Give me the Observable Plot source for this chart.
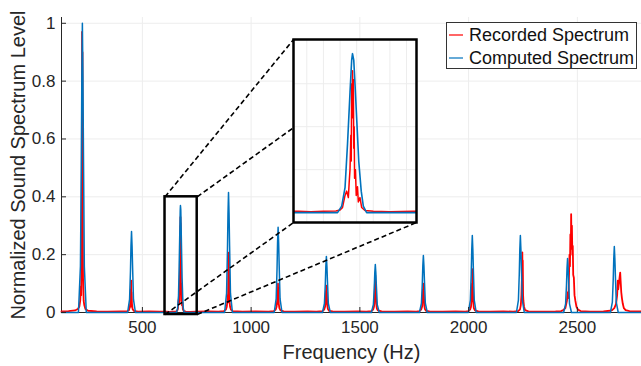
<!DOCTYPE html>
<html><head><meta charset="utf-8">
<script src="https://cdn.jsdelivr.net/npm/d3@7"></script>
<script src="https://cdn.jsdelivr.net/npm/@observablehq/plot@0.6"></script>
<style>
body{margin:0;background:#fff;}
#wrap{position:relative;width:641px;height:366px;font-family:"Liberation Sans",Arial,sans-serif;overflow:hidden;}
#legend{position:absolute;box-sizing:border-box;border:1px solid #333;background:#fff;font-size:18px;color:#111;}
#legend .row{position:absolute;left:0;height:22px;line-height:22px;white-space:nowrap;}
#legend .sw{position:absolute;left:2px;top:10px;width:14px;height:2px;}
#legend .tx{position:absolute;left:22px;top:0;}
#inset{position:absolute;}
</style></head><body><div id="wrap"></div>
<script>
// ---- data ----
const xTicks = [500, 1000, 1500, 2000, 2500];
const xTickLabels = ["500", "1000", "1500", "2000", "2500"];
const yTicks = [0, 0.2, 0.4, 0.6, 0.8, 1];
const yTickLabels = ["0", "0.2", "0.4", "0.6", "0.8", "1"];
const xDomain = [128, 2795];
const yDomain = [0, 1.02];
const zoomX = [604, 752];
const zoomY = [-0.007, 0.40];
const insetYDomain = [-0.023, 0.403];
const insetBox = {x1: 1195, x2: 1760, y1: 0.311, y2: 0.944};
const insetGridX = [620, 640, 660, 680, 700, 720, 740];
const insetGridY = [0.1, 0.2, 0.3];
const seriesNames = ["Recorded Spectrum", "Computed Spectrum"];
const seriesColors = ["#ff0000", "#0072bd"];
const xLabel = "Frequency (Hz)";
const yLabel = "Normalized Sound Spectrum Level";

const computedSpectrum = [
[128,0],
[206,0],[215,0.16],[219,0.5],[221.5,0.82],[224,1.0],[226.5,0.82],[229,0.55],[233,0.16],[242,0],
[432,0],[441,0.045],[445,0.14],[447.5,0.23],[450,0.28],[452.5,0.23],[455,0.154],[459,0.045],[468,0],
[640,0],[657,0],[662,0.015],[666,0.058],[669,0.16],[672,0.28],[674,0.355],[675,0.37],[676.5,0.355],[678,0.3],[680,0.22],[682.5,0.12],[685.5,0.05],[688,0.015],[692,0],[710,0],
[878,0],[887,0.066],[891,0.21],[893.5,0.34],[896,0.415],[898.5,0.34],[901,0.228],[905,0.066],[914,0],
[1106,0],[1115,0.047],[1119,0.148],[1121.5,0.242],[1124,0.295],[1126.5,0.242],[1129,0.162],[1133,0.047],[1142,0],
[1328,0],[1337,0.031],[1341,0.097],[1343.5,0.159],[1346,0.194],[1348.5,0.159],[1351,0.107],[1355,0.031],[1364,0],
[1553,0],[1562,0.027],[1566,0.083],[1568.5,0.136],[1571,0.166],[1573.5,0.136],[1576,0.091],[1580,0.027],[1589,0],
[1774,0],[1783,0.032],[1787,0.099],[1789.5,0.162],[1792,0.197],[1794.5,0.162],[1797,0.108],[1801,0.032],[1810,0],
[1999,0],[2008,0.043],[2012,0.133],[2014.5,0.218],[2017,0.266],[2019.5,0.218],[2022,0.146],[2026,0.043],[2035,0],
[2220,0],[2229,0.043],[2233,0.133],[2235.5,0.218],[2238,0.266],[2240.5,0.218],[2243,0.146],[2247,0.043],[2256,0],
[2437,0],[2446,0.03],[2450,0.094],[2452.5,0.153],[2455,0.187],[2457.5,0.153],[2460,0.103],[2464,0.03],[2473,0],
[2652,0],[2661,0.036],[2665,0.114],[2667.5,0.187],[2670,0.228],[2672.5,0.187],[2675,0.125],[2679,0.036],[2688,0],
[2795,0]
];

const recordedSpectrum = [
[128,0.004],[160,0.005],[190,0.007],[203,0.012],[210,0.02],[214,0.04],[217,0.09],[218.5,0.06],[220,0.2],[221.5,0.55],[222.5,0.97],[223.5,0.5],[224.5,0.9],[225.5,0.35],[227,0.12],[228.5,0.08],[230,0.04],[233,0.025],[238,0.012],[250,0.006],[290,0.004],[340,0.003],[400,0.004],
[430,0.004],[438,0.008],[442,0.018],[445,0.04],[446.5,0.08],[447.5,0.02],[448.5,0.11],[449.5,0.03],[450.5,0.07],[452,0.03],[455,0.012],[460,0.006],[480,0.003],[530,0.004],[580,0.003],
[610,0.003],[625,0.002],[640,0.003],[655,0.004],[660,0.006],[663,0.012],[666,0.04],[668,0.05],[670,0.035],[671,0.07],[672,0.1],[673,0.18],[673.5,0.12],[674,0.3],[674.5,0.22],[675,0.33],[675.5,0.26],[676,0.31],[676.5,0.15],[677,0.2],[677.5,0.08],[678.5,0.1],[679.5,0.04],[681,0.06],[682,0.025],[684,0.035],[686,0.012],[690,0.005],[700,0.003],[720,0.002],[748,0.003],[800,0.004],[850,0.003],
[875,0.005],[884,0.01],[888,0.02],[891,0.04],[892.5,0.06],[893.5,0.035],[895,0.13],[896,0.207],[897,0.12],[898,0.19],[899,0.07],[900.5,0.04],[903,0.02],[907,0.01],[915,0.005],[960,0.003],[1020,0.004],[1080,0.003],
[1105,0.005],[1113,0.01],[1117,0.02],[1120,0.045],[1121.5,0.07],[1122.5,0.03],[1123.5,0.1],[1124.5,0.04],[1125.5,0.085],[1127,0.03],[1130,0.015],[1135,0.007],[1150,0.004],[1200,0.003],[1260,0.004],[1300,0.003],
[1328,0.005],[1336,0.01],[1340,0.02],[1342.5,0.05],[1344,0.075],[1345,0.03],[1346,0.093],[1347,0.04],[1348,0.07],[1350,0.025],[1353,0.012],[1358,0.006],[1375,0.004],[1430,0.003],[1490,0.004],[1530,0.003],
[1553,0.005],[1561,0.01],[1565,0.02],[1567.5,0.05],[1569,0.1],[1570,0.04],[1571,0.128],[1572,0.05],[1573,0.09],[1575,0.03],[1578,0.014],[1583,0.007],[1600,0.004],[1660,0.003],[1720,0.004],[1760,0.003],
[1774,0.005],[1782,0.01],[1786,0.02],[1788.5,0.05],[1790,0.08],[1791,0.035],[1792,0.1],[1793,0.045],[1794,0.075],[1796,0.025],[1799,0.012],[1804,0.006],[1820,0.004],[1880,0.003],[1940,0.004],[1985,0.003],
[1999,0.005],[2007,0.01],[2011,0.02],[2014,0.05],[2015.5,0.1],[2016.5,0.04],[2017.5,0.15],[2018.5,0.05],[2019.5,0.09],[2021,0.04],[2024,0.015],[2029,0.007],[2045,0.004],[2100,0.003],[2160,0.004],[2205,0.003],
[2228,0.005],[2236,0.01],[2240,0.025],[2243,0.06],[2245,0.12],[2246,0.05],[2247,0.208],[2248,0.1],[2249,0.18],[2250.5,0.06],[2252,0.04],[2255,0.02],[2260,0.008],[2275,0.004],[2330,0.003],[2400,0.004],[2425,0.005],
[2435,0.008],[2445,0.015],[2452,0.04],[2456,0.07],[2459,0.05],[2462,0.14],[2464,0.2],[2466,0.16],[2468,0.27],[2470,0.22],[2471.5,0.34],[2473,0.25],[2475,0.3],[2477,0.2],[2479,0.23],[2481,0.13],[2484,0.12],[2487,0.06],[2491,0.04],[2496,0.02],[2503,0.01],[2515,0.005],[2560,0.003],[2620,0.004],[2650,0.006],
[2660,0.008],[2670,0.015],[2678,0.03],[2683,0.06],[2686,0.11],[2688,0.08],[2691,0.1],[2694,0.12],[2697,0.138],[2699,0.11],[2702,0.07],[2705,0.05],[2709,0.03],[2714,0.015],[2722,0.008],[2740,0.005],[2795,0.004]
];

// ---- layout ----
const W = 641, H = 366, mL = 61, mR = 0, mT = 17, mB = 54;
const innerW = W - mL - mR, innerH = H - mT - mB;
const FONT = "'Liberation Sans', Arial, Helvetica, sans-serif";
const ink = "#262626";

const connectors = [
  {x1: zoomX[0], y1: zoomY[1], x2: insetBox.x1, y2: insetBox.y2},
  {x1: zoomX[1], y1: zoomY[1], x2: insetBox.x2, y2: insetBox.y2},
  {x1: zoomX[0], y1: zoomY[0], x2: insetBox.x1, y2: insetBox.y1},
  {x1: zoomX[1], y1: zoomY[0], x2: insetBox.x2, y2: insetBox.y1}
];

const main = Plot.plot({
  width: W, height: H,
  marginLeft: mL, marginRight: mR, marginTop: mT, marginBottom: mB,
  style: {fontFamily: FONT, fontSize: "17px", color: ink, background: "white", overflow: "visible"},
  x: {domain: xDomain, axis: null},
  y: {domain: yDomain, axis: null},
  marks: [
    Plot.ruleX(xTicks, {stroke: "#ededed"}),
    Plot.ruleY(yTicks.slice(1), {stroke: "#ededed"}),
    Plot.ruleX([xDomain[0]], {stroke: ink, strokeWidth: 1}),
    Plot.ruleY([0], {stroke: ink, strokeWidth: 1}),
    Plot.line(recordedSpectrum, {x: d => d[0], y: d => d[1], stroke: seriesColors[0], strokeWidth: 1.8}),
    Plot.line(computedSpectrum, {x: d => d[0], y: d => d[1], stroke: seriesColors[1], strokeWidth: 1.5}),
    Plot.link(connectors, {x1: "x1", y1: "y1", x2: "x2", y2: "y2", stroke: "black", strokeWidth: 1.6, strokeDasharray: "5,3"}),
    Plot.rect([{}], {x1: () => zoomX[0], x2: () => zoomX[1], y1: () => zoomY[0], y2: () => zoomY[1], fill: "none", stroke: "black", strokeWidth: 2.5}),
    Plot.tickX(xTicks, {x: d => d, insetTop: innerH - 5, stroke: ink}),
    Plot.tickY(yTicks, {y: d => d, insetRight: innerW - 5, stroke: ink}),
    Plot.axisX(xTicks, {tickSize: 0, tickPadding: 8, fontSize: 17, fill: ink, label: null, tickFormat: (d, i) => xTickLabels[i]}),
    Plot.axisY(yTicks, {tickSize: 0, tickPadding: 6, fontSize: 17, fill: ink, label: null, tickFormat: (d, i) => yTickLabels[i]}),
    Plot.text([xLabel], {frameAnchor: "bottom", lineAnchor: "middle", textAnchor: "middle", dy: 40, fontSize: 20, fill: ink}),
    Plot.text([yLabel], {frameAnchor: "left", lineAnchor: "middle", textAnchor: "middle", dx: -43, rotate: -90, fontSize: 20, fill: ink})
  ]
});

const wrap = document.getElementById("wrap");
wrap.appendChild(main);

// inset positioned by the main scales
const sx = main.scale("x"), sy = main.scale("y");
const ix1 = sx.apply(insetBox.x1), ix2 = sx.apply(insetBox.x2);
const iy1 = sy.apply(insetBox.y2), iy2 = sy.apply(insetBox.y1);
const iw = Math.round(ix2 - ix1), ih = Math.round(iy2 - iy1);

const inset = Plot.plot({
  width: iw, height: ih, margin: 0,
  style: {background: "white", overflow: "visible"},
  x: {domain: zoomX, axis: null},
  y: {domain: insetYDomain, axis: null},
  marks: [
    Plot.ruleX(insetGridX, {stroke: "#ededed"}),
    Plot.ruleY(insetGridY, {stroke: "#ededed"}),
    Plot.line(recordedSpectrum, {x: d => d[0], y: d => d[1], stroke: seriesColors[0], strokeWidth: 1.5, clip: true}),
    Plot.line(computedSpectrum, {x: d => d[0], y: d => d[1], stroke: seriesColors[1], strokeWidth: 1.6, clip: true}),
    Plot.frame({stroke: "black", strokeWidth: 2.5})
  ]
});
const insetDiv = document.createElement("div");
insetDiv.id = "inset";
insetDiv.style.left = ix1 + "px";
insetDiv.style.top = iy1 + "px";
insetDiv.appendChild(inset);
wrap.appendChild(insetDiv);

// legend
const legend = document.createElement("div");
legend.id = "legend";
legend.style.left = "446px"; legend.style.top = "22px";
legend.style.width = "191px"; legend.style.height = "47px";
seriesNames.forEach((name, i) => {
  const row = document.createElement("div");
  row.className = "row";
  row.style.top = (1 + i * 23) + "px";
  const sw = document.createElement("div");
  sw.className = "sw";
  sw.style.background = seriesColors[i];
  sw.style.opacity = "0.6";
  const tx = document.createElement("span");
  tx.className = "tx";
  tx.textContent = name;
  row.appendChild(sw); row.appendChild(tx);
  legend.appendChild(row);
});
wrap.appendChild(legend);
</script>
</body></html>
